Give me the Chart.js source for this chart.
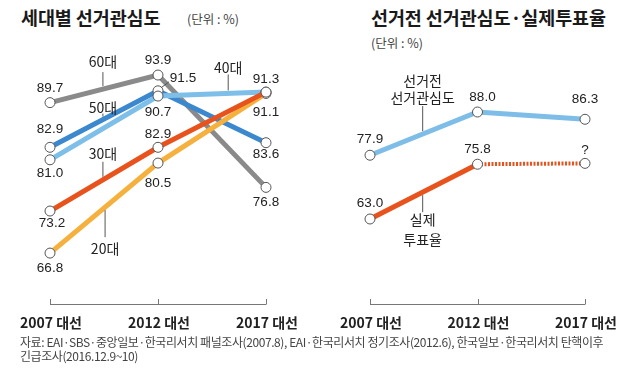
<!DOCTYPE html>
<html>
<head>
<meta charset="utf-8">
<script src="https://cdn.jsdelivr.net/npm/chart.js@4.4.0/dist/chart.umd.min.js"></script>
<style>
  body { margin: 0; width: 640px; height: 370px; background: #fff; position: relative; overflow: hidden;
         font-family: "Noto Sans CJK KR", "Noto Sans", sans-serif; color: #222; }
  canvas { position: absolute; top: 0; }
  #ageChart { left: 0; }
  #voteChart { left: 320px; }
  .title { position: absolute; font-weight: bold; font-size: 18.5px; letter-spacing: -0.1px; color: #1a1a1a; white-space: nowrap; }
  .unit { position: absolute; font-size: 12.5px; color: #444; white-space: nowrap; }
  #source { position: absolute; left: 20px; top: 335px; font-size: 12px; line-height: 14px; color: #444;
            letter-spacing: -0.42px; white-space: nowrap; }
</style>
</head>
<body>
<div class="title" style="left:21px;top:4px">세대별 선거관심도</div>
<div class="unit" style="left:187px;top:9px">(단위 : %)</div>
<div class="title" style="left:371px;top:4px">선거전 선거관심도·실제투표율</div>
<div class="unit" style="left:371px;top:33px">(단위 : %)</div>
<canvas id="ageChart" width="320" height="370"></canvas>
<canvas id="voteChart" width="320" height="370"></canvas>
<div id="source">자료: EAI·SBS·중앙일보·한국리서치 패널조사(2007.8), EAI·한국리서치 정기조사(2012.6), 한국일보·한국리서치 탄핵이후<br>긴급조사(2016.12.9~10)</div>

<script>
// data
const years = ["2007 대선", "2012 대선", "2017 대선"];
const ageNames = ["20대", "30대", "40대", "50대", "60대"];
const age20 = [66.8, 80.5, 91.1];
const age30 = [73.2, 82.9, 91.3];
const age40 = [81.0, 90.7, 91.3];
const age50 = [82.9, 91.5, 83.6];
const age60 = [89.7, 93.9, 76.8];
const voteNames = ["선거전\n선거관심도", "실제\n투표율"];
const interest = [77.9, 88.0, 86.3];
const turnout = [63.0, 75.8, 76.0];
const turnoutText = ["63.0", "75.8", "?"];

const POINT = { pointRadius: 5, pointBackgroundColor: "#fff", pointBorderColor: "#555", pointBorderWidth: 1 };

// value labels + series name pointers + bottom axis
const decorate = {
  id: "decorate",
  afterDatasetsDraw(chart) {
    const ctx = chart.ctx;
    const xs = chart.scales.x, ys = chart.scales.y;
    const area = chart.chartArea;
    ctx.save();
    ctx.textAlign = "center";
    ctx.textBaseline = "middle";

    chart.data.datasets.forEach((ds, di) => {
      // value labels
      (ds.labelPos || []).forEach((p, i) => {
        if (!p) return;
        const px = xs.getPixelForValue(i), py = ys.getPixelForValue(ds.data[i]);
        const txt = ds.labelText ? ds.labelText[i] : ds.data[i].toFixed(1);
        ctx.font = '13.5px "Liberation Sans", Arial, sans-serif';
        ctx.fillStyle = "#222";
        ctx.fillText(txt, px + p[0], py + p[1]);
        if (p[2]) {
          ctx.strokeStyle = "#555";
          ctx.lineWidth = 1;
          ctx.beginPath();
          ctx.moveTo(px + 3, py - 3);
          ctx.lineTo(px + 11, py - 9);
          ctx.stroke();
        }
      });
      // series name with pointer line
      const nm = ds.namePos;
      if (nm) {
        const i0 = Math.floor(nm.t), f = nm.t - i0;
        const v = ds.data[i0] + (ds.data[i0 + 1] - ds.data[i0]) * f;
        const px = xs.getPixelForValue(nm.t), py = ys.getPixelForValue(v);
        const s = nm.dir;
        ctx.strokeStyle = "#555";
        ctx.lineWidth = 1;
        ctx.beginPath();
        ctx.moveTo(px, py + s * 3);
        ctx.lineTo(px, py + s * nm.len);
        ctx.stroke();
        ctx.font = '14px "Noto Sans CJK KR", sans-serif';
        ctx.fillStyle = "#222";
        const lines = ds.label.split("\n");
        lines.forEach((ln, k) => {
          const off = s < 0 ? nm.text + (lines.length - 1 - k) * 17 : nm.text + k * 20;
          ctx.fillText(ln, px, py + s * off);
        });
      }
    });

    // bottom axis with upward ticks
    const y0 = area.bottom;
    const xa = xs.getPixelForValue(0), xb = xs.getPixelForValue(years.length - 1);
    ctx.strokeStyle = "#777";
    ctx.lineWidth = 1;
    ctx.beginPath();
    ctx.moveTo(xa, y0 + 0.5);
    ctx.lineTo(xb, y0 + 0.5);
    years.forEach((y, i) => {
      const x = Math.round(xs.getPixelForValue(i)) + 0.5;
      ctx.moveTo(x, y0 + 0.5);
      ctx.lineTo(x, y0 - 5);
    });
    ctx.stroke();
    ctx.font = 'bold 14px "Noto Sans CJK KR", sans-serif';
    ctx.fillStyle = "#222";
    years.forEach((y, i) => ctx.fillText(y, xs.getPixelForValue(i) + 1, y0 + 19));
    ctx.restore();
  }
};

function baseOptions(ymin, ymax) {
  return {
    responsive: false,
    animation: false,
    layout: { padding: { left: 50, right: 54, top: 55, bottom: 66 } },
    plugins: { legend: { display: false }, tooltip: { enabled: false } },
    scales: {
      x: { type: "category", display: false, offset: false },
      y: { display: false, min: ymin, max: ymax }
    }
  };
}

function line(label, data, color, extra) {
  return Object.assign({ label, data, borderColor: color, borderWidth: 5, clip: false, tension: 0 }, POINT, extra);
}

// draw order: first dataset ends on top
new Chart(document.getElementById("ageChart"), {
  type: "line",
  data: {
    labels: years,
    datasets: [
      line(ageNames[1], age30, "#e8531d", { labelPos: [[2, 12], [0, -13], null], namePos: { t: 0.49, dir: -1, len: 18, text: 26 } }),
      line(ageNames[0], age20, "#f6b03e", { labelPos: [[0, 15], [0, 20], [0, 19]], namePos: { t: 0.51, dir: 1, len: 30, text: 42 } }),
      line(ageNames[2], age40, "#7dbfe9", { labelPos: [[0, 13], [0, 16], [0, -13]], namePos: { t: 1.65, dir: -1, len: 19, text: 26 } }),
      line(ageNames[3], age50, "#3b88cf", { labelPos: [[0, -18], [25, -13, true], [0, 12]], namePos: { t: 0.49, dir: -1, len: 6, text: 12 } }),
      line(ageNames[4], age60, "#8a8a8a", { labelPos: [[0, -14], [0, -15], [0, 15]], namePos: { t: 0.49, dir: -1, len: 17, text: 27 } })
    ]
  },
  options: baseOptions(59.05, 96.95),
  plugins: [decorate]
});

const voteOpts = baseOptions(43.14, 101.32);
voteOpts.layout.padding.right = 55;
new Chart(document.getElementById("voteChart"), {
  type: "line",
  data: {
    labels: years,
    datasets: [
      line(voteNames[1], turnout, "#e8531d", {
        labelText: turnoutText,
        labelPos: [[0, -16], [0, -15], [0, -13]],
        namePos: { t: 0.49, dir: 1, len: 20, text: 28 },
        segment: {
          borderDash: c => c.p0DataIndex === 1 ? [2, 1.5] : undefined,
          borderWidth: c => c.p0DataIndex === 1 ? 4 : 5
        }
      }),
      line(voteNames[0], interest, "#7dbde7", { labelPos: [[0, -16], [5, -15], [0, -20]], namePos: { t: 0.49, dir: -1, len: 28, text: 36 } })
    ]
  },
  options: voteOpts,
  plugins: [decorate]
});
</script>
</body>
</html>
